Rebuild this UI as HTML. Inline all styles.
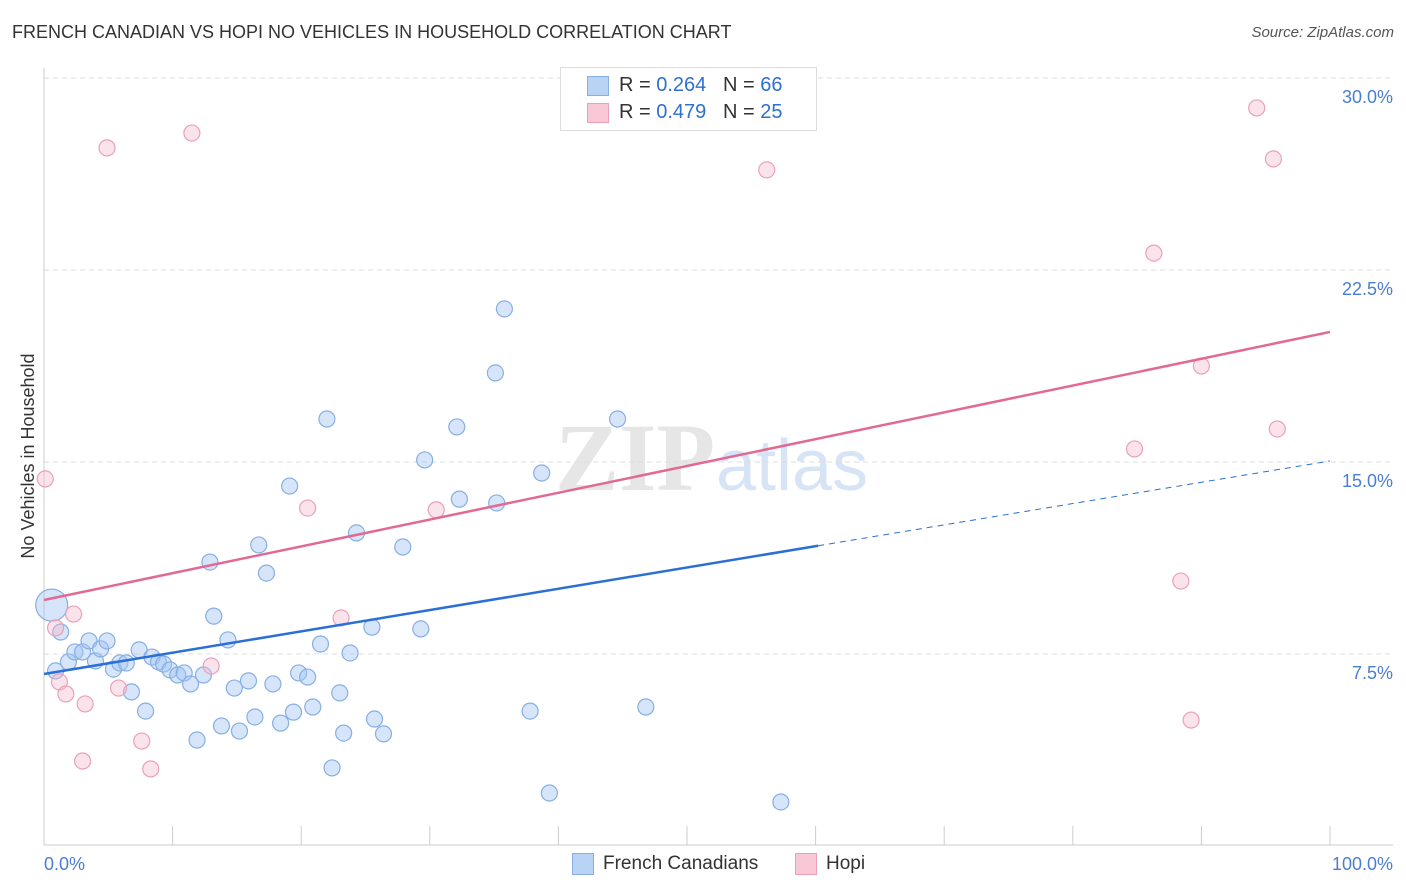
<!DOCTYPE html>
<html><head><meta charset="utf-8"><style>
body{margin:0;background:#fff;font-family:"Liberation Sans",sans-serif;}
#wrap{position:relative;width:1406px;height:892px;overflow:hidden;}
.t{position:absolute;white-space:nowrap;}
</style></head><body>
<div id="wrap">
<div class="t" style="left:12px;top:22px;font-size:18px;color:#333;">FRENCH CANADIAN VS HOPI NO VEHICLES IN HOUSEHOLD CORRELATION CHART</div>
<div class="t" style="right:12px;top:24px;font-size:15px;color:#555;font-style:italic;">Source: ZipAtlas.com</div>
<svg id="svg" width="1406" height="892" style="position:absolute;left:0;top:0"></svg>
</div>
<script>
const blueX=[0.6,1.3,0.9,1.9,2.4,3.0,3.5,4.0,4.4,4.9,5.4,5.9,6.4,6.8,7.4,7.9,8.4,8.9,9.3,9.8,10.4,10.9,11.4,11.9,12.4,12.9,13.2,13.8,14.3,14.8,15.2,15.9,16.4,16.7,17.3,17.8,18.4,19.1,19.4,19.8,20.5,20.9,21.5,22.0,22.4,23.0,23.3,23.8,24.3,25.5,25.7,26.4,27.9,29.3,29.6,32.1,32.3,35.1,35.2,35.8,37.8,38.7,39.3,44.6,46.8,57.3];
const blueY=[9.41,8.36,6.84,7.19,7.58,7.58,8.01,7.23,7.70,8.01,6.91,7.15,7.15,6.02,7.66,5.27,7.38,7.19,7.11,6.88,6.68,6.76,6.33,4.14,6.68,11.09,8.98,4.69,8.05,6.17,4.49,6.45,5.04,11.76,10.66,6.33,4.80,14.06,5.23,6.76,6.60,5.43,7.89,16.68,3.05,5.98,4.41,7.54,12.23,8.55,4.96,4.38,11.68,8.48,15.08,16.37,13.55,18.48,13.40,20.98,5.27,14.57,2.07,16.68,5.43,1.72];
const pinkX=[0.1,0.9,1.2,1.7,2.3,3.0,3.2,4.9,5.8,7.6,8.3,11.5,13.0,20.5,23.1,30.5,56.2,84.8,86.3,88.4,89.2,90.0,94.3,95.6,95.9];
const pinkY=[14.34,8.52,6.41,5.94,9.06,3.32,5.55,27.27,6.17,4.10,3.01,27.85,7.03,13.20,8.91,13.13,26.41,15.51,23.16,10.35,4.92,18.75,28.83,26.84,16.29];
const blueTrend=[6.72,15.04];
const pinkTrend=[9.61,20.08];
const yTicks=[7.5,15.0,22.5,30.0];
const yTickLabels=["7.5%","15.0%","22.5%","30.0%"];
const xEnds=["0.0%","100.0%"];
const X0=44,X1=1330,YB=846,PPU=25.6;
const sx=v=>X0+(X1-X0)*v/100, sy=v=>YB-v*PPU;
const NS="http://www.w3.org/2000/svg", svg=document.getElementById('svg');
function mk(tag,at){const e=document.createElementNS(NS,tag);for(const k in at)e.setAttribute(k,at[k]);svg.appendChild(e);return e;}
// watermark
let wm=mk('text',{x:555,y:490,'font-size':96,fill:'#e6e6e6','font-family':'Liberation Serif, serif','font-weight':'bold'});wm.textContent='ZIP';


let wm2=mk('text',{x:716,y:490,'font-size':72,fill:'#d6e4f5','font-family':'Liberation Sans, sans-serif'});wm2.textContent='atlas';


yTicks.forEach((v,i)=>{
 const g=mk('line',{x1:X0,x2:1393,y1:sy(v),y2:sy(v),stroke:'#ddd','stroke-dasharray':'5,4'});
 
 
 const t=mk('text',{x:1393,y:sy(v)+25,'text-anchor':'end','font-size':18,fill:'#4a7fd0'});t.textContent=yTickLabels[i];
 
 
});
const ax=mk('line',{x1:X0,x2:1393,y1:845,y2:845,stroke:'#ccc'});


const ay=mk('line',{x1:X0,x2:X0,y1:68,y2:845,stroke:'#ccc'});


for(let i=0;i<=10;i++){const l=mk('line',{x1:sx(i*10),x2:sx(i*10),y1:826,y2:845,stroke:'#ccc'});
 
 }
let xl=mk('text',{x:44,y:870,'font-size':18,fill:'#4a7fd0'});xl.textContent=xEnds[0];


let xr=mk('text',{x:1393,y:870,'font-size':18,fill:'#4a7fd0','text-anchor':'end'});xr.textContent=xEnds[1];


let yt=mk('text',{x:34,y:456,'font-size':18,fill:'#333','text-anchor':'middle',transform:'rotate(-90 34 456)'});yt.textContent='No Vehicles in Household';


blueX.forEach((x,i)=>{const c=mk('circle',{cx:sx(x),cy:sy(blueY[i]),r:i===0?16:8,fill:'rgba(164,198,242,0.45)',stroke:'#86afe3','stroke-width':1.2});
 
 });
pinkX.forEach((x,i)=>{const c=mk('circle',{cx:sx(x),cy:sy(pinkY[i]),r:8,fill:'rgba(246,186,204,0.4)',stroke:'#eba0b8','stroke-width':1.2});
 
 });
const bAt=v=>blueTrend[0]+(blueTrend[1]-blueTrend[0])*v/100;
let bl=mk('line',{x1:sx(0),y1:sy(bAt(0)),x2:sx(60.2),y2:sy(bAt(60.2)),stroke:'#2a6fd6','stroke-width':2.5});


let bd=mk('line',{x1:sx(60.2),y1:sy(bAt(60.2)),x2:sx(100),y2:sy(bAt(100)),stroke:'#2a6fd6','stroke-width':1,'stroke-dasharray':'6,5'});


let pl=mk('line',{x1:sx(0),y1:sy(pinkTrend[0]),x2:sx(100),y2:sy(pinkTrend[1]),stroke:'#e26a92','stroke-width':2.5});


</script>
<div class="t" style="left:560px;top:67px;width:255px;height:62px;border:1px solid #ddd;background:#fff;">
 <div style="position:absolute;left:26px;top:8px;width:20px;height:18px;background:#b9d3f5;border:1px solid #86afe3;"></div>
 <div class="t" style="left:58px;top:6px;font-size:20px;color:#333;">R = <span style="color:#2f6fd0">0.264</span>&nbsp;&nbsp;&nbsp;N = <span style="color:#2f6fd0">66</span></div>
 <div style="position:absolute;left:26px;top:35px;width:20px;height:18px;background:#f8c8d6;border:1px solid #eba0b8;"></div>
 <div class="t" style="left:58px;top:33px;font-size:20px;color:#333;">R = <span style="color:#2f6fd0">0.479</span>&nbsp;&nbsp;&nbsp;N = <span style="color:#2f6fd0">25</span></div>
</div>
<div class="t" style="left:572px;top:853px;width:20px;height:20px;background:#b9d3f5;border:1px solid #86afe3;"></div>
<div class="t" style="left:603px;top:853px;font-size:19px;color:#333;">French Canadians</div>
<div class="t" style="left:795px;top:853px;width:20px;height:20px;background:#f8c8d6;border:1px solid #eba0b8;"></div>
<div class="t" style="left:826px;top:853px;font-size:19px;color:#333;">Hopi</div>
</body></html>
